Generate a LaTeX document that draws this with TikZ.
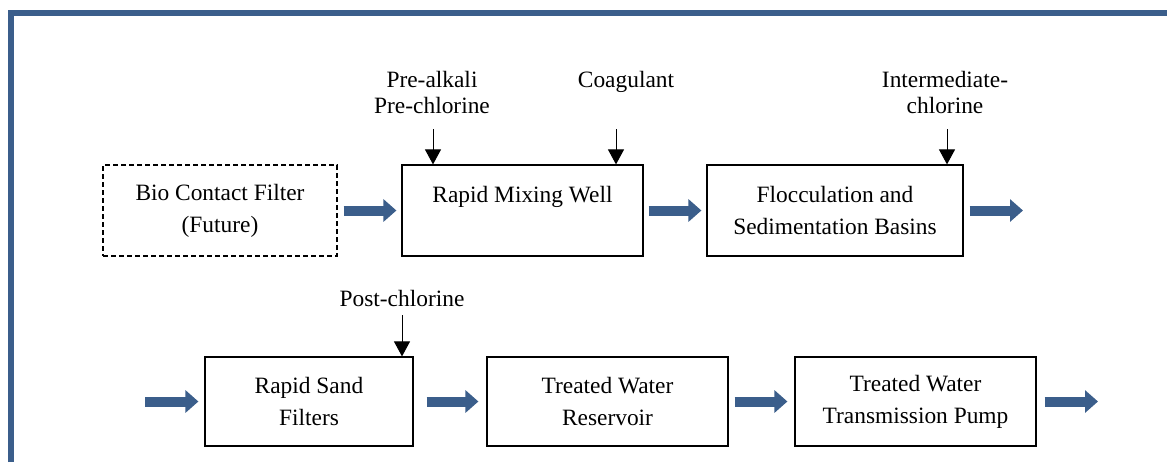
\documentclass[tikz,border=0pt]{standalone}
\usepackage{fontspec}
\setmainfont{Liberation Serif}
\usetikzlibrary{arrows.meta}
\definecolor{pipeblue}{RGB}{59,94,139}
\begin{document}
\begin{tikzpicture}[x=0.5pt,y=-0.5pt,
    unit/.style={draw,line width=0.6pt,align=center,inner sep=0pt,minimum height=45.5pt,font=\fontsize{11.7}{16}\selectfont},
    dose/.style={align=center,inner sep=0pt,font=\fontsize{11.7}{13}\selectfont},
    flow/.style={pipeblue,line width=5pt,-{Triangle[length=6.5pt,width=11pt]}},
    feed/.style={line width=0.5pt,-{Triangle[length=7.5pt,width=8pt]}}]
	      \useasboundingbox (0,0) rectangle (1167,462);
	      % frame
	      \draw[pipeblue,line width=3pt] (10.7,462) -- (10.7,13) -- (1167,13);
	      % first row
	      \node[unit,dashed,dash pattern=on 2.5pt off 1.5pt,minimum width=117pt] (bio) at (220,210.5) {Bio Contact Filter\\(Future)};
	      \node[unit,minimum width=120.5pt] (mix) at (522.5,210.5) {Rapid Mixing Well\\\phantom{X}};
	      \node[unit,minimum width=128pt] (floc) at (835,210.5) {Flocculation and\\Sedimentation Basins};
	      \coordinate (out1) at (1023,210.5);
	      % second row
	      \coordinate (in2) at (145,401.5);
	      \node[unit,minimum height=44.5pt,minimum width=104pt] (sand) at (309,401.5) {Rapid Sand\\Filters};
	      \node[unit,minimum height=44.5pt,minimum width=120.5pt] (res) at (607.5,401.5) {Treated Water\\Reservoir};
	      \node[unit,minimum height=44.5pt,minimum width=120.5pt] (pump) at (915.5,401.5) {Treated Water\\Transmission Pump};
	      \coordinate (out2) at (1098,401.5);
	      % chemicals
	      \node[dose] (prelbl) at (432,92) {Pre-alkali\\Pre-chlorine};
	      \node[dose] (coaglbl) at (626,81.5) {Coagulant};
	      \node[dose] (intlbl) at (945,92) {Intermediate-\\chlorine};
	      \node[dose] (postlbl) at (402,298) {Post-chlorine};
	      \coordinate (pre) at (433,129);
	      \coordinate (coag) at (616,129);
	      \coordinate (int) at (947,129);
	      \coordinate (post) at (402,315);
	      \draw[feed] (pre) -- (pre |- mix.north);
	      \draw[feed] (coag) -- (coag |- mix.north);
	      \draw[feed] (int) -- (int |- floc.north);
	      \draw[feed] (post) -- (post |- sand.north);
	      % flow arrows
	      \draw[flow,shorten <=3pt,shorten >=2.5pt] (bio) -- (mix);
	      \draw[flow,shorten <=2.5pt,shorten >=2.5pt] (mix) -- (floc);
	      \draw[flow,shorten <=3pt] (floc) -- (out1);
	      \draw[flow,shorten >=3pt] (in2) -- (sand);
	      \draw[flow,shorten <=6.5pt,shorten >=4pt] (sand) -- (res);
	      \draw[flow,shorten <=3pt,shorten >=3.5pt] (res) -- (pump);
	      \draw[flow,shorten <=4pt] (pump) -- (out2);
\end{tikzpicture}
\end{document}
